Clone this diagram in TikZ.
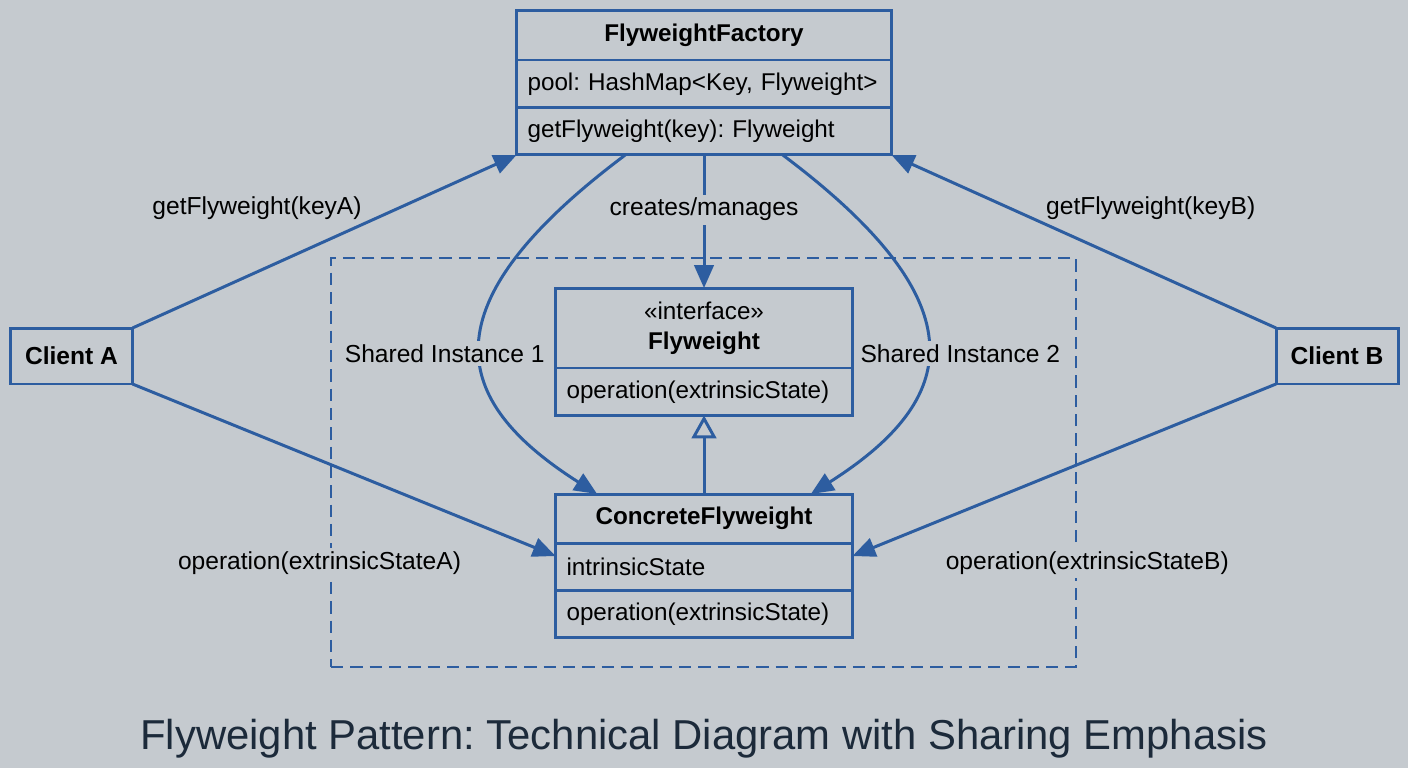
\documentclass[tikz,border=0pt]{standalone}
\usepackage{fontspec}
\setmainfont{Liberation Sans}
\usetikzlibrary{arrows.meta,positioning,calc}
\definecolor{pagegray}{RGB}{197,202,207}
\definecolor{umlblue}{RGB}{45,93,160}
\definecolor{titlenavy}{RGB}{28,42,58}
\frenchspacing

\begin{document}
\begin{tikzpicture}[
  x=0.02cm, y=-0.02cm,
  box/.style={rectangle, draw=umlblue, line width=1.7pt, fill=pagegray,
    outer sep=0pt, inner xsep=0.22cm, inner ysep=0pt,
    font=\fontsize{13.8}{17}\selectfont},
  classhead/.style={box, text width=#1, align=center, minimum height=1cm,
    font=\fontsize{13.8}{17}\selectfont\bfseries},
  classrow/.style={box, text width=#1, align=left, minimum height=0.95cm},
  client/.style={box, minimum width=2.44cm, minimum height=1.12cm,
    font=\fontsize{14}{17}\selectfont\bfseries},
  arrow/.style={-{Triangle[length=13pt,width=11pt]}, line width=1.7pt, draw=umlblue},
  realize/.style={-{Triangle[length=13pt,width=14pt,fill=pagegray]}, line width=1.7pt, draw=umlblue},
  msg/.style={inner sep=2pt, text=black, font=\fontsize{14}{17}\selectfont},
  cut/.style={msg, fill=pagegray}
]
% page
\fill[pagegray] (0,0) rectangle (1408,768);

% shared area
\node[draw=umlblue, line width=1.6pt, dash pattern=on 7pt off 4pt,
  minimum width=14.9cm, minimum height=8.18cm] (sharedpool) at (703.5,462.5) {};

% factory
\node[classhead=7.06cm] (factory) at (704,35) {FlyweightFactory};
\node[classrow=7.06cm, below=0pt of factory] (factory-pool) {pool: HashMap<Key, Flyweight>};
\node[classrow=7.06cm, below=0pt of factory-pool] (factory-op) {getFlyweight(key): Flyweight};

% flyweight interface
\node[classhead=5.5cm, minimum height=1.6cm] (iface) at (704,328) {\textmd{«interface»}\\Flyweight};
\node[classrow=5.5cm, below=0pt of iface] (iface-op) {operation(extrinsicState)};

% concrete flyweight
\node[classhead=5.5cm, minimum height=0.98cm] (concrete) at (704,518.5) {ConcreteFlyweight};
\node[classrow=5.5cm, below=0pt of concrete] (concrete-attr) {intrinsicState};
\node[classrow=5.5cm, below=0pt of concrete-attr] (concrete-op) {operation(extrinsicState)};

% clients
\node[client] (clientA) at (71.5,356) {Client A};
\node[client] (clientB) at (1337,356) {Client B};

% requests
\draw[arrow] (clientA.north east) -- (factory-op.south west)
  node[msg, midway, xshift=-1.35cm, yshift=0.67cm] (lblKeyA) {getFlyweight(keyA)};
\draw[arrow] (clientB.north west) -- (factory-op.south east)
  node[msg, midway, xshift=1.34cm, yshift=0.67cm] (lblKeyB) {getFlyweight(keyB)};
\draw[arrow] (clientA.south east) -- ($(concrete-attr.north west)+(0,13)$)
  node[cut, midway, xshift=-0.49cm, yshift=-1.86cm] (lblOpA) {operation(extrinsicStateA)};
\draw[arrow] (clientB.south west) -- ($(concrete-attr.north east)+(0,13)$)
  node[cut, midway, xshift=0.46cm, yshift=-1.86cm] (lblOpB) {operation(extrinsicStateB)};

% factory hands out shared instances
\draw[arrow] (factory-op.south) -- (iface.north)
  node[cut, pos=0.41] (lblCreates) {creates/manages};
\draw[arrow] ($(factory-op.south west)!0.29!(factory-op.south east)$)
  .. controls +(-200,150) and +(-148,-94) .. ($(concrete.north west)!0.14!(concrete.north east)$)
  node[cut, pos=0.5, xshift=-0.72cm, yshift=-0.16cm] (lblShared1) {Shared Instance 1};
\draw[arrow] ($(factory-op.south west)!0.71!(factory-op.south east)$)
  .. controls +(200,150) and +(148,-94) .. ($(concrete.north west)!0.86!(concrete.north east)$)
  node[cut, pos=0.5, xshift=0.66cm, yshift=-0.16cm] (lblShared2) {Shared Instance 2};

% realization
\draw[realize] (concrete.north) -- (iface-op.south);

\node[font=\fontsize{23.8}{28}\selectfont, text=titlenavy] (caption) at (704,739)
  {Flyweight Pattern: Technical Diagram with Sharing Emphasis};
\end{tikzpicture}
\end{document}
